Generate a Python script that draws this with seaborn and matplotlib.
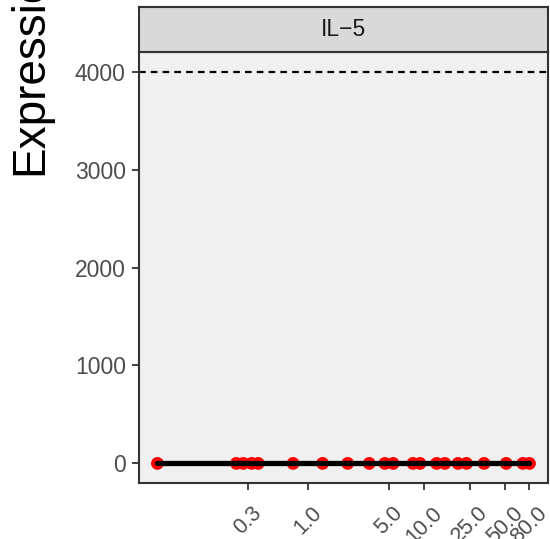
import matplotlib
matplotlib.use("Agg")
import matplotlib.pyplot as plt
import seaborn as sns
import pandas as pd

# doses (log scale) and measured IL-5 expression
dose = [0.05, 0.24, 0.275, 0.325, 0.37, 0.74, 1.33, 2.19, 3.36, 4.58, 5.4,
        8.0, 9.2, 12.8, 15.1, 19.6, 23.2, 32.9, 51, 71, 81]
expression = [0] * len(dose)
threshold = 4000
x_ticks = [0.3, 1, 5, 10, 25, 50, 80]
x_labels = ["0.3", "1.0", "5.0", "10.0", "25.0", "50.0", "80.0"]
y_ticks = [0, 1000, 2000, 3000, 4000]
panel_title = "IL\u22125"

df = pd.DataFrame({"dose": dose, "expression": expression})

sns.set_theme(style="white")
plt.rcParams["font.family"] = ["Liberation Sans", "DejaVu Sans"]

fig = plt.figure(figsize=(5.5, 5.39), dpi=100)
ax = fig.add_axes([0.2527, 0.1039, 0.7436, 0.7996])
ax.set_facecolor("#F0F0F0")

sns.lineplot(data=df, x="dose", y="expression", color="black", lw=3.8, ax=ax, zorder=3)
sns.scatterplot(data=df, x="dose", y="expression", color="red", s=85, edgecolor="none", ax=ax, zorder=2)
ax.axhline(threshold, color="black", lw=1.6, ls=(0, (3, 2.3)), zorder=1)

ax.set_xscale("log")
ax.set_xlim(10 ** -1.46, 10 ** 2.068)
ax.set_ylim(-200, 4200)
ax.set_xticks(x_ticks)
ax.set_xticklabels(x_labels)
ax.minorticks_off()
ax.set_yticks(y_ticks)
ax.set_xlabel("")
ax.set_ylabel("")
ax.tick_params(axis="both", length=5, width=1.3, color="#333333", labelcolor="#4D4D4D",
               bottom=True, left=True)
ax.tick_params(axis="y", labelsize=16.5, pad=4.5)
ax.tick_params(axis="x", labelsize=15.5, pad=9)
plt.setp(ax.get_xticklabels(), rotation=45, ha="center", va="top")
for s in ax.spines.values():
    s.set_color("#333333")
    s.set_linewidth(1.5)

# facet strip
strip = fig.add_axes([0.2527, 0.9035, 0.7436, 0.0835])
strip.set_facecolor("#D9D9D9")
strip.set_xticks([])
strip.set_yticks([])
for s in strip.spines.values():
    s.set_color("#333333")
    s.set_linewidth(1.5)
strip.text(0.5, 0.5, panel_title, ha="center", va="center", fontsize=16.5, color="#1A1A1A",
           transform=strip.transAxes)

fig.text(0.0764, 0.675, "Expression", rotation=90, rotation_mode="anchor",
         ha="left", va="baseline", fontsize=33, color="black")

fig.savefig("out.png", dpi=100)
